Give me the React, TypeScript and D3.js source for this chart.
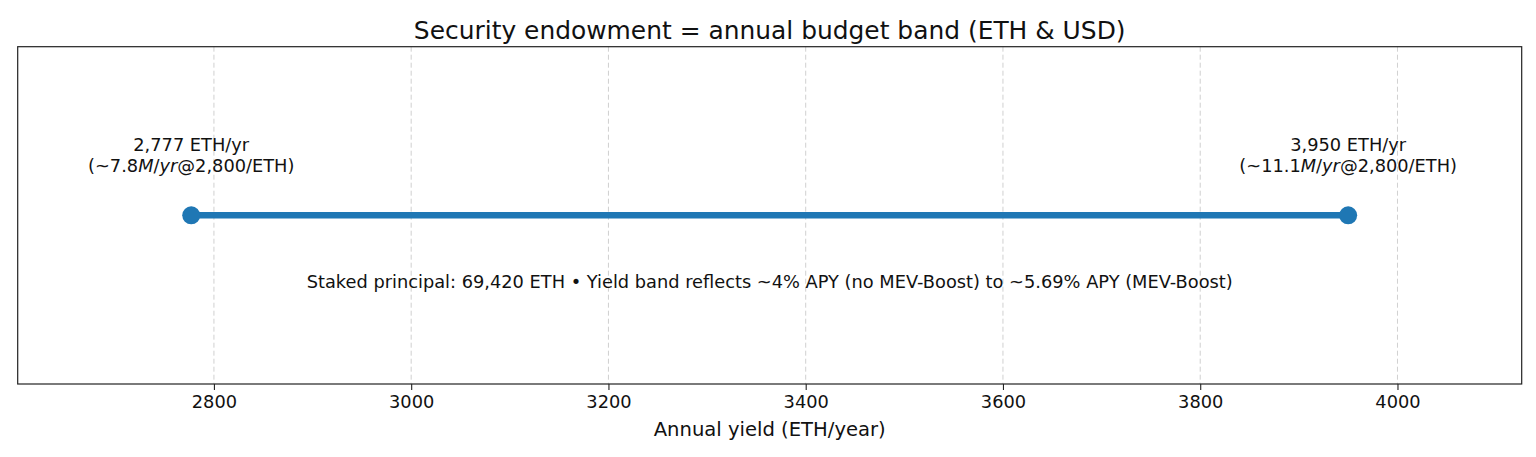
import React, { useEffect, useRef } from 'react';
import * as d3 from 'd3';

const endpoints = [2777, 3950];
const ethLabels = ['2,777 ETH/yr', '3,950 ETH/yr'];
const usdValues = ['7.8', '11.1'];
const xTicks = [2800, 3000, 3200, 3400, 3600, 3800, 4000];
const title = 'Security endowment = annual budget band (ETH & USD)';
const xLabel = 'Annual yield (ETH/year)';
const note = 'Staked principal: 69,420 ETH • Yield band reflects ~4% APY (no MEV-Boost) to ~5.69% APY (MEV-Boost)';

const WIDTH = 1536;
const HEIGHT = 457;
const FONT = '"DejaVu Sans", sans-serif';
const BLUE = '#1f77b4';
const PT = 1.78; // px per point

export default function App() {
  const svgRef = useRef<SVGSVGElement>(null);

  useEffect(() => {
    if (!svgRef.current) return;
    const margin = { top: 46.7, right: 14.3, bottom: 73, left: 17.7 };
    const innerW = WIDTH - margin.left - margin.right;
    const innerH = HEIGHT - margin.top - margin.bottom;

    const svg = d3.select(svgRef.current);
    svg.selectAll('*').remove();

    const span = endpoints[1] - endpoints[0];
    const x = d3.scaleLinear()
      .domain([endpoints[0] - 0.15 * span, endpoints[1] + 0.15 * span])
      .range([0, innerW]);
    const y = d3.scaleLinear().domain([-1, 1]).range([innerH, 0]);

    svg.append('rect').attr('width', WIDTH).attr('height', HEIGHT).attr('fill', '#fff');

    const g = svg.append('g').attr('transform', `translate(${margin.left},${margin.top})`);

    // Grid
    g.append('g')
      .selectAll('line')
      .data(xTicks)
      .enter()
      .append('line')
      .attr('x1', d => x(d))
      .attr('x2', d => x(d))
      .attr('y1', 0)
      .attr('y2', innerH)
      .attr('stroke', '#b0b0b0')
      .attr('stroke-opacity', 0.6)
      .attr('stroke-width', 1)
      .attr('stroke-dasharray', '5,3');

    // Axis
    const axis = g.append('g')
      .attr('transform', `translate(0,${innerH})`)
      .call(d3.axisBottom(x).tickValues(xTicks).tickFormat(d3.format('d')).tickSize(6).tickPadding(5));
    axis.select('.domain').remove();
    axis.selectAll('line').attr('stroke', '#222').attr('stroke-width', 1.1);
    axis.selectAll('text')
      .attr('font-family', FONT)
      .attr('font-size', 10 * PT)
      .attr('fill', '#111');

    // Frame
    g.append('rect')
      .attr('width', innerW)
      .attr('height', innerH)
      .attr('fill', 'none')
      .attr('stroke', '#222')
      .attr('stroke-width', 1.2);

    // Band line
    g.append('path')
      .attr('d', d3.line<number>().x(d => x(d)).y(() => y(0))(endpoints))
      .attr('stroke', BLUE)
      .attr('stroke-width', 6.5)
      .attr('fill', 'none');

    g.selectAll('circle.end')
      .data(endpoints)
      .enter()
      .append('circle')
      .attr('class', 'end')
      .attr('cx', d => x(d))
      .attr('cy', y(0))
      .attr('r', 9)
      .attr('fill', BLUE);

    // Annotations
    endpoints.forEach((v, i) => {
      const t = g.append('text')
        .attr('x', x(v))
        .attr('y', y(0))
        .attr('text-anchor', 'middle')
        .attr('font-family', FONT)
        .attr('font-size', 10 * PT)
        .attr('fill', '#111');
      t.append('tspan').attr('x', x(v)).attr('dy', -64).text(ethLabels[i]);
      const l2 = t.append('tspan').attr('x', x(v)).attr('dy', 21);
      l2.append('tspan').text(`(~${usdValues[i]}`);
      l2.append('tspan').attr('font-style', 'italic').text('M');
      l2.append('tspan').text('/');
      l2.append('tspan').attr('font-style', 'italic').text('yr');
      l2.append('tspan').text('@2,800/ETH)');
    });

    g.append('text')
      .attr('x', innerW / 2)
      .attr('y', y(-0.39))
      .attr('dy', '0.36em')
      .attr('text-anchor', 'middle')
      .attr('font-family', FONT)
      .attr('font-size', 10 * PT)
      .attr('fill', '#111')
      .text(note);

    // Title and label
    svg.append('text')
      .attr('x', margin.left + innerW / 2)
      .attr('y', 38.5)
      .attr('text-anchor', 'middle')
      .attr('font-family', FONT)
      .attr('font-size', 14 * PT)
      .attr('fill', '#111')
      .text(title);

    svg.append('text')
      .attr('x', margin.left + innerW / 2)
      .attr('y', 436)
      .attr('text-anchor', 'middle')
      .attr('font-family', FONT)
      .attr('font-size', 11 * PT)
      .attr('fill', '#111')
      .text(xLabel);
  }, []);

  return (
    <svg
      ref={svgRef}
      width={WIDTH}
      height={HEIGHT}
      style={{ position: 'absolute', left: 0, top: 0, display: 'block' }}
    />
  );
}
